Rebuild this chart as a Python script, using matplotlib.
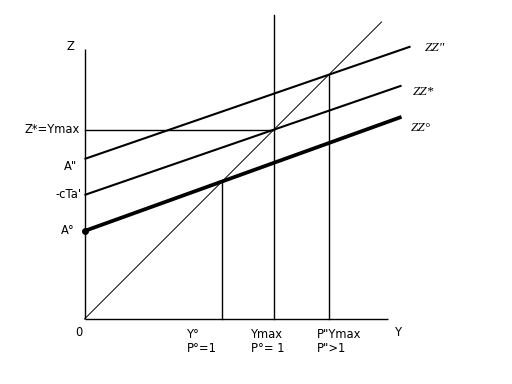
import matplotlib
matplotlib.use("Agg")
import matplotlib.pyplot as plt
import numpy as np

# ---- data (chart units) ----
curve_names = ["ZZ°", "ZZ*", "ZZ\""]
intercepts = [88, 124, 160]          # A°, -cTa', A"
slopes = [0.36, 0.345, 0.345]
curve_end_x = [317, 317, 326]
curve_widths = [2.7, 1.5, 1.5]
intercept_labels = ["A°", "-cTa'", "A\""]
x_labels = ["Y°\nP°=1", "Ymax\nP°= 1", "P\"Ymax\nP\">1"]
diag_end = 297
axis_top = 270
axis_right = 303
frame_top = 304

fig = plt.figure(figsize=(5.12, 3.84), dpi=100)
ax = fig.add_axes([0, 0, 1, 1])
ax.set_xlim(-84.5, 427.5)
ax.set_ylim(-65, 319)
ax.axis("off")

font = dict(family="DejaVu Sans", fontsize=8.3, color="black")

# axes
ax.plot([0, 0], [0, axis_top], color="black", lw=1.0, solid_capstyle="butt")
ax.plot([0, axis_right], [0, 0], color="black", lw=1.0, solid_capstyle="butt")
# 45-degree line
ax.plot([0, diag_end], [0, diag_end], color="black", lw=0.7)

# ZZ lines
xs_int = []
for c, s, xe, w in zip(intercepts, slopes, curve_end_x, curve_widths):
    xx = np.array([0, xe])
    ax.plot(xx, c + s * xx, color="black", lw=w, solid_capstyle="butt")
    xs_int.append(c / (1 - s))

ax.plot([0], [intercepts[0]], marker="o", color="black", ms=4)

# verticals and horizontal
ax.plot([xs_int[0], xs_int[0]], [0, xs_int[0]], color="black", lw=1.0)
ax.plot([xs_int[1], xs_int[1]], [0, frame_top], color="black", lw=1.0)
ax.plot([xs_int[2], xs_int[2]], [0, xs_int[2]], color="black", lw=1.0)
ax.plot([0, xs_int[1]], [xs_int[1], xs_int[1]], color="black", lw=1.0)

# y labels
ax.text(-14.5, 272, "Z", ha="center", va="center", **font)
ax.text(-4.5, xs_int[1], "Z*=Ymax", ha="right", va="center", **font)
ax.text(-7.5, intercepts[2] - 8, intercept_labels[2], ha="right", va="center", **font)
ax.text(-2.5, intercepts[1], intercept_labels[1], ha="right", va="center", **font)
ax.text(-9.5, intercepts[0], intercept_labels[0], ha="right", va="center", **font)
ax.text(-5.5, -14, "0", ha="center", va="center", **font)
ax.text(313.5, -14, "Y", ha="center", va="center", **font)

# x labels
offsets = [-35, -22.5, -12]
for xi, lab, off in zip(xs_int, x_labels, offsets):
    ax.text(xi + off, -8.5, lab, ha="left", va="top", linespacing=1.2, **font)

# curve labels
curve_label_pos = [(326.5, 191), (328.5, 227), (340.5, 271)]
for name, (lx, ly) in zip(curve_names, curve_label_pos):
    ax.text(lx, ly, name, ha="left", va="center", family="Liberation Serif",
            style="italic", fontsize=9.5, color="black")

fig.savefig("out.png", dpi=100)
